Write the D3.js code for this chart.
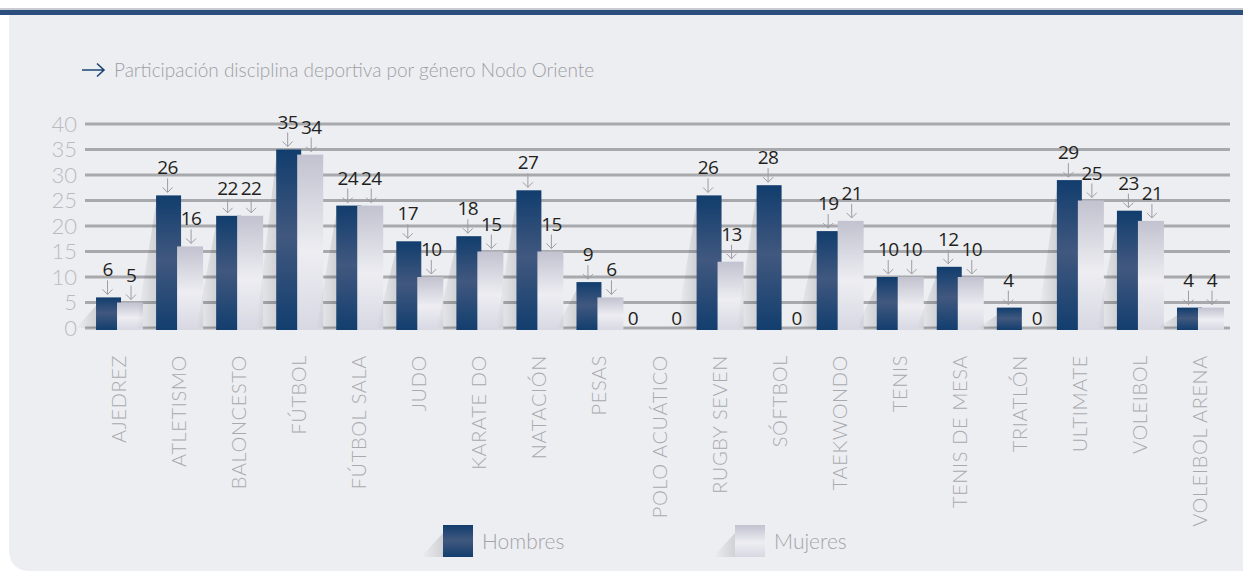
<!DOCTYPE html>
<html>
<head>
<meta charset="utf-8">
<script src="https://cdn.jsdelivr.net/npm/d3@7"></script>
<style>
  html, body { margin: 0; padding: 0; background: #fff; }
  svg { display: block; }
</style>
</head>
<body>
<svg id="chart" width="1243" height="571"></svg>
<script>
(() => {
    'use strict';

    const categories = ['AJEDREZ', 'ATLETISMO', 'BALONCESTO', 'FÚTBOL', 'FÚTBOL SALA', 'JUDO', 'KARATE  DO',
        'NATACIÓN', 'PESAS', 'POLO ACUÁTICO', 'RUGBY SEVEN', 'SÓFTBOL', 'TAEKWONDO', 'TENIS',
        'TENIS DE MESA', 'TRIATLÓN', 'ULTIMATE', 'VOLEIBOL', 'VOLEIBOL ARENA'];
    const hombres = [6, 26, 22, 35, 24, 17, 18, 27, 9, 0, 26, 28, 19, 10, 12, 4, 29, 23, 4];
    const mujeres = [5, 16, 22, 34, 24, 10, 15, 15, 6, 0, 13, 0, 21, 10, 10, 0, 25, 21, 4];
    const yTicks = [0, 5, 10, 15, 20, 25, 30, 35, 40];
    const seriesNames = ['Hombres', 'Mujeres'];
    const title = 'Participación disciplina deportiva por género Nodo Oriente';

    const svg = d3.select('#chart');
    const defs = svg.append('defs');

    // gradients for the bars
    const gH = defs.append('linearGradient').attr('id', 'gH')
        .attr('x1', 0).attr('y1', 0).attr('x2', 0).attr('y2', 1);
    gH.append('stop').attr('offset', '0%').attr('stop-color', '#113d6d');
    gH.append('stop').attr('offset', '48%').attr('stop-color', '#41587f');
    gH.append('stop').attr('offset', '100%').attr('stop-color', '#123e6e');

    const gM = defs.append('linearGradient').attr('id', 'gM')
        .attr('x1', 0).attr('y1', 0).attr('x2', 0).attr('y2', 1);
    gM.append('stop').attr('offset', '0%').attr('stop-color', '#c2c2d0');
    gM.append('stop').attr('offset', '55%').attr('stop-color', '#ededf2');
    gM.append('stop').attr('offset', '100%').attr('stop-color', '#d8d8e3');

    const gS = defs.append('linearGradient').attr('id', 'gS')
        .attr('x1', 0).attr('y1', 0).attr('x2', 1).attr('y2', 0);
    gS.append('stop').attr('offset', '0%').attr('stop-color', '#000').attr('stop-opacity', 0);
    gS.append('stop').attr('offset', '100%').attr('stop-color', '#000').attr('stop-opacity', 0.12);

    // panel
    svg.append('rect').attr('x', 0).attr('y', 8).attr('width', 1243).attr('height', 2).attr('fill', '#c9ccd3');
    svg.append('path')
        .attr('d', 'M9,15 H1243 V571 H31 Q9,571 9,549 Z')
        .attr('fill', '#edeef2');
    svg.append('rect').attr('x', 0).attr('y', 10).attr('width', 1243).attr('height', 5).attr('fill', '#2b4e7d');

    // title
    svg.append('path')
        .attr('d', 'M82,70 H104 M97,63.5 L104,70 L97,76.5')
        .attr('fill', 'none').attr('stroke', '#1d4577').attr('stroke-width', 1.6);
    svg.append('text')
        .attr('x', 114).attr('y', 77)
        .attr('font-family', 'Lato').attr('font-weight', 300)
        .attr('font-size', 19).attr('fill', '#9d9ea3')
        .text(title);

    const x = d3.scaleBand().domain(categories).range([89, 1230]);
    const y = d3.scaleLinear().domain([0, 40]).range([328, 124]);

    // gridlines
    svg.append('g').selectAll('line').data(yTicks).enter().append('line')
        .attr('x1', 85).attr('x2', 1230)
        .attr('y1', d => y(d)).attr('y2', d => y(d))
        .attr('stroke', '#a8a9ad').attr('stroke-width', 3);

    // y axis labels
    const yAxis = d3.axisLeft(y).tickValues(yTicks).tickSize(0).tickPadding(0);
    const gy = svg.append('g').attr('transform', 'translate(77,0)').call(yAxis);
    gy.select('.domain').remove();
    gy.selectAll('text')
        .attr('font-family', 'Lato').attr('font-weight', 300)
        .attr('font-size', 22).attr('fill', '#b9babe');

    const data = categories.map((c, i) => ({ cat: c, h: hombres[i], m: mujeres[i] }));
    const barW = 25;
    const cx = d => x(d.cat) + x.bandwidth() / 2;

    const groups = svg.append('g').selectAll('g').data(data).enter().append('g');

    // shadows
    groups.filter(d => d.h > 0).append('path')
        .attr('d', d => {
            const x0 = cx(d) - 23;
            return 'M' + (x0 - 20) + ',' + y(0) + ' L' + x0 + ',' + (y(d.h) + 8) + ' L' + x0 + ',' + y(0) + ' Z';
        })
        .attr('fill', 'url(#gS)');

    groups.filter(d => d.h > 0).append('rect')
        .attr('x', d => cx(d) - 23)
        .attr('width', barW)
        .attr('y', d => y(d.h))
        .attr('height', d => y(0) + 2 - y(d.h))
        .attr('fill', 'url(#gH)');

    groups.filter(d => d.m > 0).append('rect')
        .attr('x', d => cx(d) - 2)
        .attr('width', barW + 1)
        .attr('y', d => y(d.m))
        .attr('height', d => y(0) + 2 - y(d.m))
        .attr('fill', 'url(#gM)');

    // value labels with arrows
    const labels = [];
    data.forEach(d => {
        labels.push({ x: cx(d) - 11.5, v: d.h, z: -15 });
        labels.push({ x: cx(d) + 12, v: d.m, z: 5 });
    });

    const lg = svg.append('g');
    lg.selectAll('text').data(labels).enter().append('text')
        .attr('x', d => d.v > 0 ? d.x : d.x + d.z)
        .attr('y', d => d.v > 0 ? y(d.v) - 21 : y(0) - 3)
        .attr('text-anchor', 'middle')
        .attr('font-family', 'Open Sans').attr('font-size', 19)
        .attr('letter-spacing', -0.6)
        .attr('fill', '#231f20')
        .text(d => d.v);

    lg.selectAll('path').data(labels.filter(d => d.v > 0)).enter().append('path')
        .attr('d', d => {
            const t = y(d.v);
            return 'M' + d.x + ',' + (t - 17) + ' V' + (t - 3) +
                ' M' + (d.x - 5) + ',' + (t - 8) + ' L' + d.x + ',' + (t - 3) + ' L' + (d.x + 5) + ',' + (t - 8);
        })
        .attr('fill', 'none').attr('stroke', '#9c9ca2').attr('stroke-width', 1);

    // category labels
    svg.append('g').selectAll('text').data(categories).enter().append('text')
        .attr('transform', d => 'translate(' + (x(d) + x.bandwidth() / 2 + 7) + ',355) rotate(-90)')
        .attr('text-anchor', 'end')
        .attr('font-family', 'Lato').attr('font-weight', 300)
        .attr('font-size', 20).attr('letter-spacing', 0.6).attr('fill', '#a9aaae')
        .text(d => d);

    // legend
    const legendX = [443, 735];
    const leg = svg.append('g').selectAll('g').data(seriesNames).enter().append('g')
        .attr('transform', (d, i) => 'translate(' + legendX[i] + ',525)');
    leg.append('path')
        .attr('d', 'M-22,32 L0,8 L0,32 Z')
        .attr('fill', 'url(#gS)');
    leg.append('rect')
        .attr('width', 30).attr('height', 32)
        .attr('fill', (d, i) => i === 0 ? 'url(#gH)' : 'url(#gM)');
    leg.append('text')
        .attr('x', 39).attr('y', 24)
        .attr('font-family', 'Lato').attr('font-weight', 300)
        .attr('font-size', 21).attr('fill', '#a3a4a8')
        .text(d => d);
})();
</script>
</body>
</html>
